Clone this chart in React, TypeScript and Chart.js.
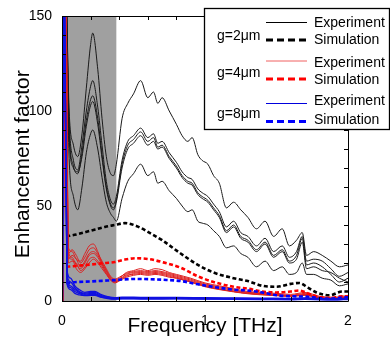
import React, { useEffect, useRef } from 'react';
import { Chart, registerables } from 'chart.js';

Chart.register(...registerables);

const FONT = '"Liberation Sans", Arial, Helvetica, sans-serif';

// ---------- axis ticks ----------
const X_TICKS = [0, 1, 2];
const Y_TICKS = [0, 50, 100, 150];
const X_MINOR_STEP = 0.2;
const Y_MINOR_STEP = 10;
const X_RANGE = [0, 2];
const Y_RANGE = [0, 150];
const SHADED_BAND = [0, 0.38];

// ---------- g = 2 um (black) experiment ----------
const FREQ_BLACK = [0.005, 0.015, 0.05, 0.08, 0.11, 0.14, 0.17, 0.2, 0.215, 0.25, 0.28, 0.31, 0.34, 0.36, 0.38, 0.42, 0.46, 0.5, 0.55, 0.6, 0.64, 0.67, 0.7, 0.75, 0.8, 0.84, 0.88, 0.91, 0.95, 0.98, 1.02, 1.06, 1.1, 1.15, 1.2, 1.25, 1.3, 1.36, 1.42, 1.48, 1.54, 1.59, 1.64, 1.68, 1.71, 1.76, 1.82, 1.88, 1.94, 2.0];
const BLACK_EXP_1 = [0, 200, 100, 82, 76, 88, 112, 135, 141, 122, 96, 76, 67, 66, 72, 96, 104, 109, 116, 107, 110, 104, 107, 100, 93, 87, 84, 86, 77, 74, 72, 66, 62, 49, 52, 48, 44, 38, 42, 34, 38, 29, 32, 36, 24, 26, 24, 21, 18, 19];
const BLACK_EXP_2 = [0, 200, 95, 74, 69, 82, 100, 113, 116, 102, 82, 63, 53, 51, 55, 74, 84, 87, 91, 86, 88, 83, 84, 78, 73, 68, 65, 64, 59, 57, 55, 51, 47, 39, 42, 36, 34, 29, 33, 26, 29, 23, 26, 34, 21, 22, 21, 17, 13, 15];
const BLACK_EXP_3 = [0, 200, 90, 71, 67, 78, 95, 106, 108, 96, 77, 60, 51, 49, 53, 72, 82, 85, 89, 84, 86, 81, 82, 76, 71, 66, 63, 62, 57, 55, 53, 49, 45, 37, 40, 34, 32, 27, 31, 24, 27, 21, 24, 33, 19, 20, 18, 14, 10, 12];
const BLACK_EXP_4 = [0, 200, 86, 70, 68, 76, 92, 103, 105, 93, 75, 59, 50, 48, 52, 70, 80, 83, 87, 82, 84, 80, 81, 75, 70, 65, 62, 61, 56, 54, 52, 48, 44, 36, 39, 33, 31, 26, 30, 23, 26, 20, 22, 31, 17, 18, 16, 15, 12, 10];
const BLACK_EXP_5 = [0, 200, 75, 55, 48, 60, 78, 88, 90, 80, 65, 52, 46, 44, 42, 54, 63, 67, 72, 66, 68, 62, 63, 58, 54, 50, 47, 48, 42, 41, 40, 37, 34, 28, 29, 25, 23, 18, 21, 16, 18, 14, 15, 20, 14, 14, 12, 11, 8, 9];

// ---------- g = 4 um (red) experiment ----------
const FREQ_RED = [0.008, 0.022, 0.045, 0.07, 0.1, 0.13, 0.16, 0.19, 0.22, 0.25, 0.28, 0.31, 0.34, 0.37, 0.4, 0.45, 0.5, 0.55, 0.6, 0.65, 0.7, 0.75, 0.8, 0.9, 1.0, 1.1, 1.2, 1.3, 1.4, 1.5, 1.6, 1.7, 1.8, 1.9, 2.0];
const RED_EXP_1 = [0, 200, 28, 26, 22, 21, 25, 29, 30, 26, 20, 16, 12.5, 11, 12, 15, 16, 17, 16, 17, 16.5, 15, 14, 12, 9.5, 8, 6.5, 5, 4.5, 4, 3.5, 4.5, 2.5, 2, 3];
const RED_EXP_2 = [0, 200, 25, 27, 24, 20, 23, 27, 28, 25, 21, 17, 13, 11.5, 12.5, 14.5, 15.5, 16, 15.5, 16, 15.5, 14.5, 13.5, 11.5, 9, 7.5, 6, 4.5, 4, 3.5, 3, 4, 2, 1.5, 2.5];
const RED_EXP_3 = [0, 200, 22, 24, 22, 18, 21, 25, 26, 24, 20, 16, 12, 10.5, 11.5, 14, 15, 15.5, 15, 15.5, 15, 14, 13, 11, 8.5, 7, 5.5, 4.5, 3.8, 3.2, 2.8, 3.5, 1.8, 1.5, 2.2];
const RED_EXP_4 = [0, 200, 26, 23, 19, 17, 20, 24, 25, 23, 19, 15, 11.5, 10, 11, 13, 14.5, 15, 14.5, 15, 14.5, 13.5, 12.5, 10.5, 8, 6.5, 5, 4, 3.5, 3, 2.5, 3.2, 1.6, 1.2, 2];
const RED_EXP_5 = [0, 200, 20, 21, 20, 16, 18, 22, 23, 21, 18, 14.5, 11, 9.5, 10.5, 12.5, 13.5, 14, 13.5, 14, 13.5, 12.5, 12, 10, 7.5, 6, 4.8, 3.8, 3.2, 2.8, 2.4, 3, 1.5, 1, 1.8];
const RED_EXP_6 = [0, 200, 24, 22, 17, 15, 17, 20, 22, 20, 17, 14, 11, 10, 11, 13.5, 14, 14.5, 14, 14.5, 14, 13, 12, 10, 7.8, 6.2, 5, 4, 3.4, 2.9, 2.6, 3.3, 1.7, 1.1, 1.9];

// ---------- g = 8 um (blue) experiment ----------
const FREQ_BLUE = [0.003, 0.012, 0.035, 0.06, 0.09, 0.12, 0.16, 0.2, 0.23, 0.27, 0.32, 0.37, 0.42, 0.5, 0.6, 0.8, 1.0, 1.2, 1.4, 1.6, 1.7, 1.8, 1.9, 2.0];
const BLUE_EXP_1 = [0, 200, 14, 10, 7, 5, 4, 4.5, 4.5, 3, 2, 1.5, 1.8, 1.8, 1.6, 1.7, 1.5, 1.4, 1.3, 1.2, 1.4, 1.1, 1.0, 1.2];
const BLUE_EXP_2 = [0, 200, 12, 8, 6, 4.5, 3.5, 4, 4, 2.5, 1.8, 1.3, 1.5, 1.5, 1.4, 1.5, 1.3, 1.2, 1.1, 1.0, 1.2, 0.9, 0.8, 1.0];
const BLUE_EXP_3 = [0, 200, 10, 7, 5, 4, 3, 3.5, 3.5, 2.2, 1.5, 1.1, 1.3, 1.3, 1.2, 1.3, 1.1, 1.0, 0.9, 0.8, 1.0, 0.8, 0.7, 0.9];
const BLUE_EXP_4 = [0, 200, 16, 12, 8, 6, 4.5, 5, 5, 3.5, 2.3, 1.7, 2.0, 2.0, 1.9, 1.9, 1.7, 1.6, 1.5, 1.4, 1.6, 1.3, 1.2, 1.4];
const BLUE_EXP_5 = [0, 200, 9, 6, 4, 3.2, 2.8, 3, 3, 2, 1.3, 1.0, 1.1, 1.1, 1.0, 1.1, 1.0, 0.9, 0.8, 0.7, 0.9, 0.7, 0.6, 0.8];

// ---------- simulations ----------
const FREQ_SIM = [0.03, 0.1, 0.2, 0.3, 0.37, 0.44, 0.52, 0.61, 0.7, 0.83, 0.95, 1.06, 1.2, 1.3, 1.4, 1.5, 1.6, 1.66, 1.72, 1.78, 1.87, 1.96, 2.0];
const BLACK_SIM = [34, 35, 37, 39, 40, 41, 39.5, 36, 32, 25, 19, 15, 12, 10.5, 8, 7.5, 9, 9.5, 7, 4.5, 3, 5, 5];
const RED_SIM = [18, 18.5, 19.2, 20, 20.5, 21.8, 22.5, 22, 20.5, 17.5, 13, 10, 7.5, 6.5, 5, 4.5, 5, 5.5, 4, 2.5, 1.5, 2.5, 2.5];
const BLUE_SIM = [9.5, 10, 10.3, 10.7, 11, 11.4, 11.6, 11.5, 11.2, 10.5, 8.8, 7.4, 6, 5.5, 4.5, 3, 2.5, 2.4, 2.2, 1.6, 1.2, 1.8, 2];

// ---------- legend ----------
const LEGEND_GROUPS = ['g=2\u03bcm', 'g=4\u03bcm', 'g=8\u03bcm'];
const LEGEND_KINDS = ['Experiment', 'Simulation'];
const SERIES_COLORS = ['#000000', '#ff0000', '#0000ff'];
const EXP_COLORS = ['#1a1a1a', '#dd2020', '#1010e0'];
const LEGEND_EXP_COLORS = ['#000000', '#f06060', '#0000dd'];

const pts = (xs: number[], ys: number[]) => xs.map((x, i) => ({ x, y: ys[i] }));

const expSet = (xs: number[], ys: number[], color: string, order: number, width = 1) => ({
  data: pts(xs, ys),
  borderColor: color,
  borderWidth: width,
  pointRadius: 0,
  fill: false,
  cubicInterpolationMode: 'monotone' as const,
  order,
});

const simSet = (ys: number[], color: string, order: number) => ({
  data: pts(FREQ_SIM, ys),
  borderColor: color,
  borderWidth: 2.6,
  borderDash: [4, 2.5],
  pointRadius: 0,
  fill: false,
  cubicInterpolationMode: 'monotone' as const,
  order,
});

const bandPlugin = {
  id: 'band',
  beforeDatasetsDraw(chart: any) {
    const { ctx, chartArea, scales } = chart;
    const x0 = scales.x.getPixelForValue(SHADED_BAND[0]);
    const x1 = scales.x.getPixelForValue(SHADED_BAND[1]);
    ctx.save();
    ctx.fillStyle = '#a0a0a0';
    ctx.fillRect(x0, chartArea.top, x1 - x0, chartArea.bottom - chartArea.top);
    ctx.restore();
  },
};

const framePlugin = {
  id: 'frame',
  afterDatasetsDraw(chart: any) {
    const { ctx, chartArea, scales } = chart;
    const { left, right, top, bottom } = chartArea;
    ctx.save();
    ctx.strokeStyle = '#000';
    ctx.lineWidth = 1;
    ctx.beginPath();
    ctx.rect(Math.round(left) + 0.5, Math.round(top) + 0.5, Math.round(right - left), Math.round(bottom - top));
    ctx.stroke();
    const tl = 4;
    ctx.beginPath();
    for (let v = X_RANGE[0]; v <= X_RANGE[1] + 1e-9; v += X_MINOR_STEP) {
      const px = Math.round(scales.x.getPixelForValue(v)) + 0.5;
      ctx.moveTo(px, top); ctx.lineTo(px, top + tl);
      ctx.moveTo(px, bottom); ctx.lineTo(px, bottom - tl);
    }
    for (let v = Y_RANGE[0]; v <= Y_RANGE[1] + 1e-9; v += Y_MINOR_STEP) {
      const py = Math.round(scales.y.getPixelForValue(v)) + 0.5;
      ctx.moveTo(left, py); ctx.lineTo(left + tl, py);
      ctx.moveTo(right, py); ctx.lineTo(right - tl, py);
    }
    ctx.stroke();
    ctx.restore();
  },
};

const legendPlugin = {
  id: 'customLegend',
  afterDraw(chart: any) {
    const { ctx } = chart;
    ctx.save();
    const bx = 204.5, by = 8.5, bw = 185, bh = 121;
    ctx.fillStyle = '#fff';
    ctx.fillRect(bx, by, bw, bh);
    ctx.strokeStyle = '#000';
    ctx.lineWidth = 1.3;
    ctx.strokeRect(bx, by, bw, bh);
    ctx.font = '14px ' + FONT;
    ctx.textBaseline = 'alphabetic';
    const groupBase = [39.5, 77, 118];
    const expBase = [27, 67, 105];
    const simBase = [43.5, 83.5, 124];
    const expLine = [22.5, 61, 103.5];
    const simLine = [40, 79, 121.5];
    LEGEND_GROUPS.forEach((g, i) => {
      ctx.fillStyle = '#000';
      ctx.textAlign = 'left';
      ctx.fillText(g, 217, groupBase[i]);
      ctx.fillText(LEGEND_KINDS[0], 314, expBase[i]);
      ctx.fillText(LEGEND_KINDS[1], 314, simBase[i]);
      ctx.strokeStyle = LEGEND_EXP_COLORS[i];
      ctx.lineWidth = 1;
      ctx.setLineDash([]);
      ctx.beginPath();
      ctx.moveTo(266, expLine[i]); ctx.lineTo(307, expLine[i]);
      ctx.stroke();
      ctx.strokeStyle = SERIES_COLORS[i];
      ctx.lineWidth = 3;
      ctx.setLineDash([7, 4]);
      ctx.beginPath();
      ctx.moveTo(266, simLine[i]); ctx.lineTo(308, simLine[i]);
      ctx.stroke();
    });
    ctx.restore();
  },
};

export default function App() {
  const ref = useRef<HTMLCanvasElement | null>(null);
  useEffect(() => {
    document.body.style.margin = '0';
    const canvas = ref.current;
    if (!canvas) return;
    const datasets: any[] = [
      expSet(FREQ_BLACK, BLACK_EXP_1, EXP_COLORS[0], 10),
      expSet(FREQ_BLACK, BLACK_EXP_2, EXP_COLORS[0], 10),
      expSet(FREQ_BLACK, BLACK_EXP_3, EXP_COLORS[0], 10),
      expSet(FREQ_BLACK, BLACK_EXP_4, EXP_COLORS[0], 10),
      expSet(FREQ_BLACK, BLACK_EXP_5, EXP_COLORS[0], 10),
      simSet(BLACK_SIM, SERIES_COLORS[0], 8),
      expSet(FREQ_RED, RED_EXP_1, EXP_COLORS[1], 7),
      expSet(FREQ_RED, RED_EXP_2, EXP_COLORS[1], 7),
      expSet(FREQ_RED, RED_EXP_3, EXP_COLORS[1], 7),
      expSet(FREQ_RED, RED_EXP_4, EXP_COLORS[1], 7),
      expSet(FREQ_RED, RED_EXP_5, EXP_COLORS[1], 7),
      expSet(FREQ_RED, RED_EXP_6, EXP_COLORS[1], 7),
      simSet(RED_SIM, SERIES_COLORS[1], 5),
      simSet(BLUE_SIM, SERIES_COLORS[2], 4),
      expSet(FREQ_BLUE, BLUE_EXP_1, EXP_COLORS[2], 2, 1.3),
      expSet(FREQ_BLUE, BLUE_EXP_2, EXP_COLORS[2], 2, 1.3),
      expSet(FREQ_BLUE, BLUE_EXP_3, EXP_COLORS[2], 2, 1.3),
      expSet(FREQ_BLUE, BLUE_EXP_4, EXP_COLORS[2], 2, 1.3),
      expSet(FREQ_BLUE, BLUE_EXP_5, EXP_COLORS[2], 2, 1.3),
    ];
    const chart = new Chart(canvas, {
      type: 'line',
      data: { datasets },
      options: {
        animation: false,
        responsive: false,
        devicePixelRatio: 1,
        layout: { padding: { left: 0, top: 16, right: 42, bottom: 0 } },
        plugins: { legend: { display: false }, tooltip: { enabled: false } },
        scales: {
          x: {
            type: 'linear',
            min: X_RANGE[0],
            max: X_RANGE[1],
            afterBuildTicks: (s: any) => { s.ticks = X_TICKS.map((v) => ({ value: v })); },
            afterFit: (s: any) => { s.height = 37; },
            grid: { display: false },
            border: { display: false },
            ticks: { font: { size: 14, family: FONT }, color: '#000', padding: 4, maxRotation: 0, autoSkip: false },
            title: { display: true, text: 'Frequency [THz]', color: '#000', font: { size: 21, family: FONT, lineHeight: 1 }, padding: { top: 0, bottom: 1 } },
          },
          y: {
            type: 'linear',
            min: Y_RANGE[0],
            max: Y_RANGE[1],
            afterBuildTicks: (s: any) => { s.ticks = Y_TICKS.map((v) => ({ value: v })); },
            afterFit: (s: any) => { s.width = 62; },
            grid: { display: false },
            border: { display: false },
            ticks: { font: { size: 14, family: FONT }, color: '#000', padding: 2, autoSkip: false },
            title: { display: true, text: 'Enhancement factor  ', color: '#000', font: { size: 21, family: FONT, lineHeight: 1 }, padding: { top: 13, bottom: 0 } },
          },
        },
      },
      plugins: [bandPlugin, framePlugin, legendPlugin],
    });
    return () => chart.destroy();
  }, []);
  return (
    <div style={{ width: 390, height: 338, background: '#fff' }}>
      <canvas ref={ref} width={390} height={338} style={{ display: 'block' }} />
    </div>
  );
}
